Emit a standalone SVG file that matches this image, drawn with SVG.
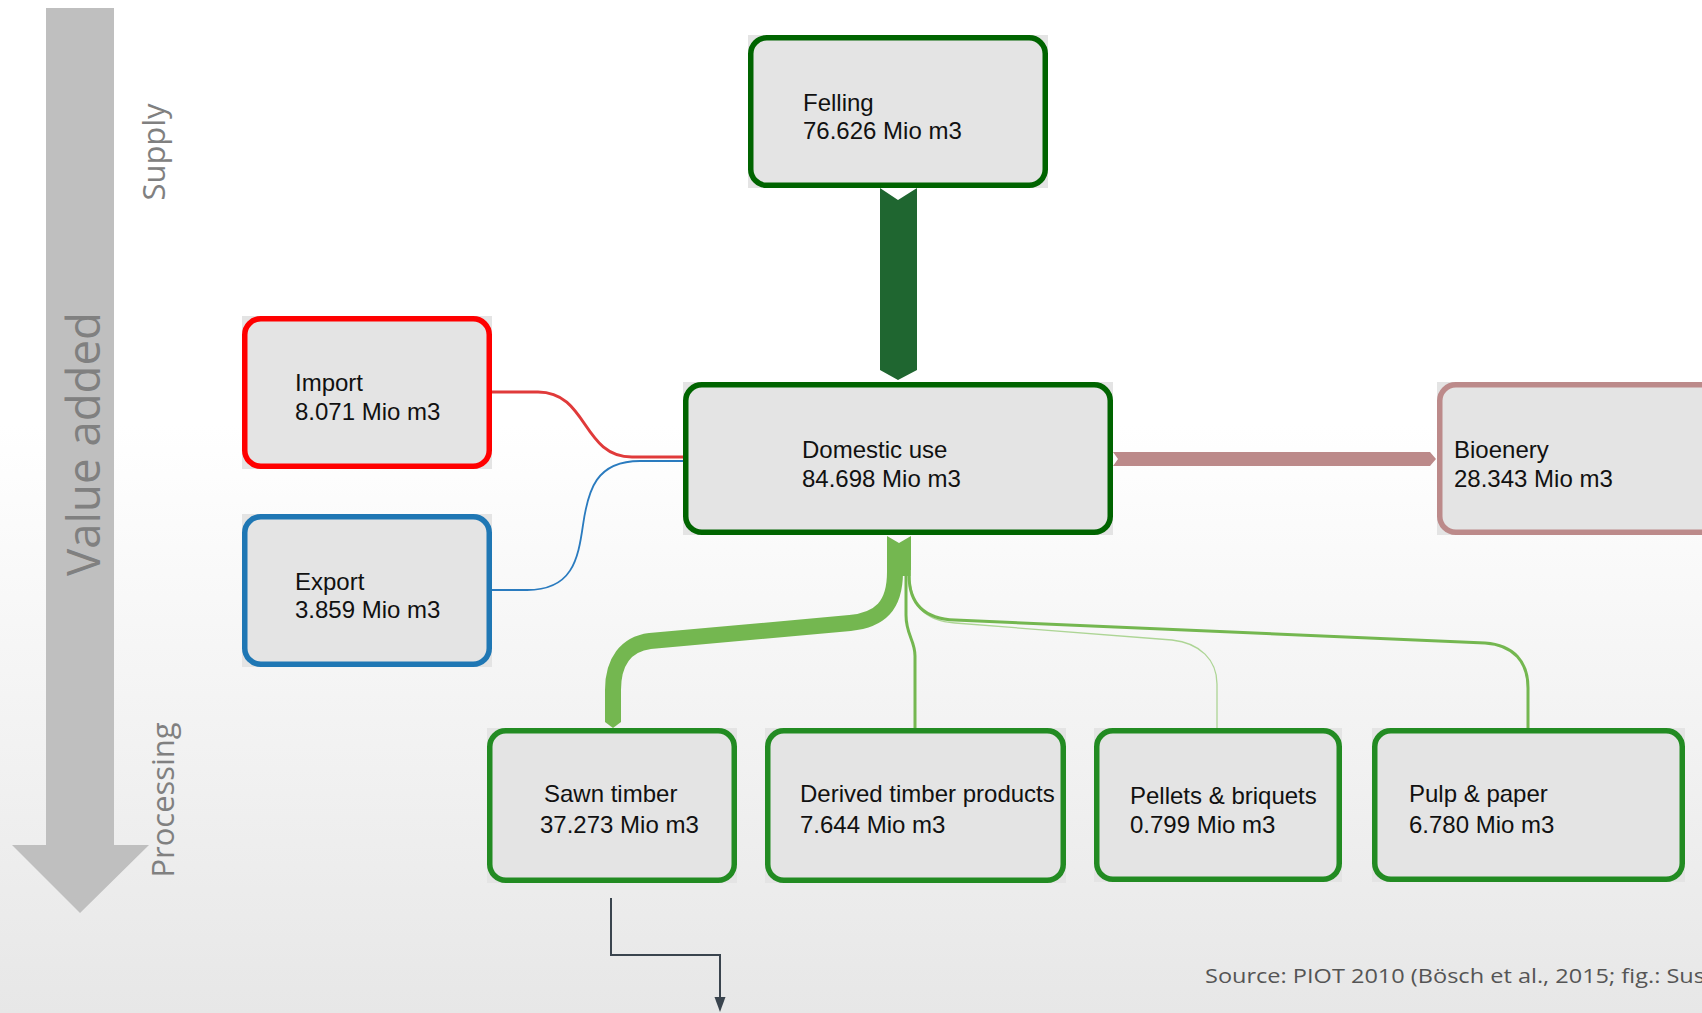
<svg xmlns="http://www.w3.org/2000/svg" width="1702" height="1013" viewBox="0 0 1702 1013">
  <defs>
    <linearGradient id="bg" x1="0" y1="0" x2="0" y2="1">
      <stop offset="0" stop-color="#ffffff"/>
      <stop offset="0.42" stop-color="#ffffff"/>
      <stop offset="1" stop-color="#e7e7e7"/>
    </linearGradient>
    <style>
      .pad { fill: #e4e4e4; }
      .frame { fill: #e4e4e4; stroke-width: 5.5; }
      .dark { stroke: #006400; }
      .light { stroke: #228b22; }
      .label { font-family: "Liberation Sans", Arial, sans-serif; font-size: 24px; fill: #111111; }
      .axis { font-family: "Open Sans", "Noto Sans", sans-serif; fill: #808080; }
      .flow { fill: none; stroke: #74b750; }
    </style>
  </defs>

  <!-- page background -->
  <rect x="0" y="0" width="1702" height="1013" fill="url(#bg)"/>

  <!-- value-added axis -->
  <g id="axis">
    <polygon points="46,8 114,8 114,845 149,845 80,913 12,845 46,845" fill="#bfbfbf"/>
    <text class="axis" transform="translate(100,444) rotate(-90)" text-anchor="middle" font-size="46" textLength="264" lengthAdjust="spacingAndGlyphs" fill="#7f7f7f">Value added</text>
    <text class="axis" transform="translate(165,152) rotate(-90)" text-anchor="middle" font-size="31" textLength="97" lengthAdjust="spacingAndGlyphs">Supply</text>
    <text class="axis" transform="translate(174,800) rotate(-90)" text-anchor="middle" font-size="31" textLength="155" lengthAdjust="spacingAndGlyphs">Processing</text>
  </g>

  <!-- connectors -->
  <g id="connectors">
    <!-- felling to domestic use -->
    <polygon points="880,188 898,200 917,188 917,370 898,380 880,370" fill="#1f6630"/>
    <!-- import / export -->
    <path d="M492,392 H538 C588,392 582,457 632,457 H683" fill="none" stroke="#e03a3a" stroke-width="3"/>
    <path d="M492,590 H527 C572,590 578,560 583,525 C588,490 596,461 640,461 H683" fill="none" stroke="#2a7bbf" stroke-width="1.8"/>
    <!-- domestic use to bioenergy -->
    <polygon points="1113,452 1118,459 1113,466 1430,466 1436,459 1430,452" fill="#bc8a8a"/>
    <!-- outflow bundle below domestic use -->
    <polygon points="887,536 899,543 911,536 911,576 887,576" fill="#74b750"/>
    <!-- sawn timber -->
    <path class="flow" d="M895,570 V572 C895,606 880,620 850,623 L650,641 C626,644 613,662 613,690 V722" stroke-width="16"/>
    <polygon points="605,721 621,721 621,722 613,728 605,722" fill="#74b750"/>
    <!-- derived timber products -->
    <path class="flow" d="M906,570 V615 C906,635 915,640 915,656 V728" stroke-width="3"/>
    <!-- pellets & briquets -->
    <path d="M910,570 V576 C910,606 926,621 955,623 L1172,640 C1200,643 1217,660 1217,684 V728" fill="none" stroke="#add595" stroke-width="1.3"/>
    <!-- pulp & paper -->
    <path class="flow" d="M909,570 V575 C909,605 925,619 955,620 L1485,643 C1514,645 1528,662 1528,688 V728" stroke-width="3"/>
    <!-- onward flow from sawn timber -->
    <path d="M611,898 V955 H720 V999" fill="none" stroke="#3a444e" stroke-width="2"/>
    <polygon points="714.5,997 725.5,997 720,1012" fill="#3a444e"/>
  </g>

  <!-- nodes -->
  <g id="felling">
    <rect class="pad" x="748" y="35" width="300" height="153"/>
    <rect class="frame dark" x="750.75" y="37.75" width="294.5" height="147.5" rx="16"/>
    <text class="label" x="803" y="111">Felling</text>
    <text class="label" x="803" y="139">76.626 Mio m3</text>
  </g>

  <g id="import">
    <rect class="pad" x="242" y="316" width="250" height="153"/>
    <rect class="frame" stroke="#ff0000" x="244.75" y="318.75" width="244.5" height="147.5" rx="16"/>
    <text class="label" x="295" y="391">Import</text>
    <text class="label" x="295" y="420">8.071 Mio m3</text>
  </g>

  <g id="export">
    <rect class="pad" x="242" y="514" width="250" height="153"/>
    <rect class="frame" stroke="#1f77b4" x="244.75" y="516.75" width="244.5" height="147.5" rx="16"/>
    <text class="label" x="295" y="590">Export</text>
    <text class="label" x="295" y="618">3.859 Mio m3</text>
  </g>

  <g id="domestic-use">
    <rect class="pad" x="683" y="382" width="430" height="153"/>
    <rect class="frame dark" x="685.75" y="384.75" width="424.5" height="147.5" rx="16"/>
    <text class="label" x="802" y="458">Domestic use</text>
    <text class="label" x="802" y="487">84.698 Mio m3</text>
  </g>

  <g id="bioenergy">
    <rect class="pad" x="1437" y="382" width="330" height="153"/>
    <rect class="frame" stroke="#bc8a8a" x="1439.75" y="384.75" width="324.5" height="147.5" rx="16"/>
    <text class="label" x="1454" y="458">Bioenery</text>
    <text class="label" x="1454" y="487">28.343 Mio m3</text>
  </g>

  <g id="sawn-timber">
    <rect class="pad" x="487" y="728" width="250" height="155"/>
    <rect class="frame light" x="489.75" y="730.75" width="244.5" height="149.5" rx="16"/>
    <text class="label" x="544" y="802">Sawn timber</text>
    <text class="label" x="540" y="833">37.273 Mio m3</text>
  </g>

  <g id="derived-timber-products">
    <rect class="pad" x="765" y="728" width="301" height="155"/>
    <rect class="frame light" x="767.75" y="730.75" width="295.5" height="149.5" rx="16"/>
    <text class="label" x="800" y="802">Derived timber products</text>
    <text class="label" x="800" y="833">7.644 Mio m3</text>
  </g>

  <g id="pellets-briquets">
    <rect class="pad" x="1094" y="728" width="248" height="154"/>
    <rect class="frame light" x="1096.75" y="730.75" width="242.5" height="148.5" rx="16"/>
    <text class="label" x="1130" y="804">Pellets &amp; briquets</text>
    <text class="label" x="1130" y="833">0.799 Mio m3</text>
  </g>

  <g id="pulp-paper">
    <rect class="pad" x="1372" y="728" width="313" height="154"/>
    <rect class="frame light" x="1374.75" y="730.75" width="307.5" height="148.5" rx="16"/>
    <text class="label" x="1409" y="802">Pulp &amp; paper</text>
    <text class="label" x="1409" y="833">6.780 Mio m3</text>
  </g>

  <!-- source note -->
  <text x="1205" y="983" font-family="Open Sans, Noto Sans, sans-serif" font-size="20" fill="#555555" textLength="500" lengthAdjust="spacingAndGlyphs">Source: PIOT 2010 (Bösch et al., 2015; fig.: Sus</text>
</svg>
